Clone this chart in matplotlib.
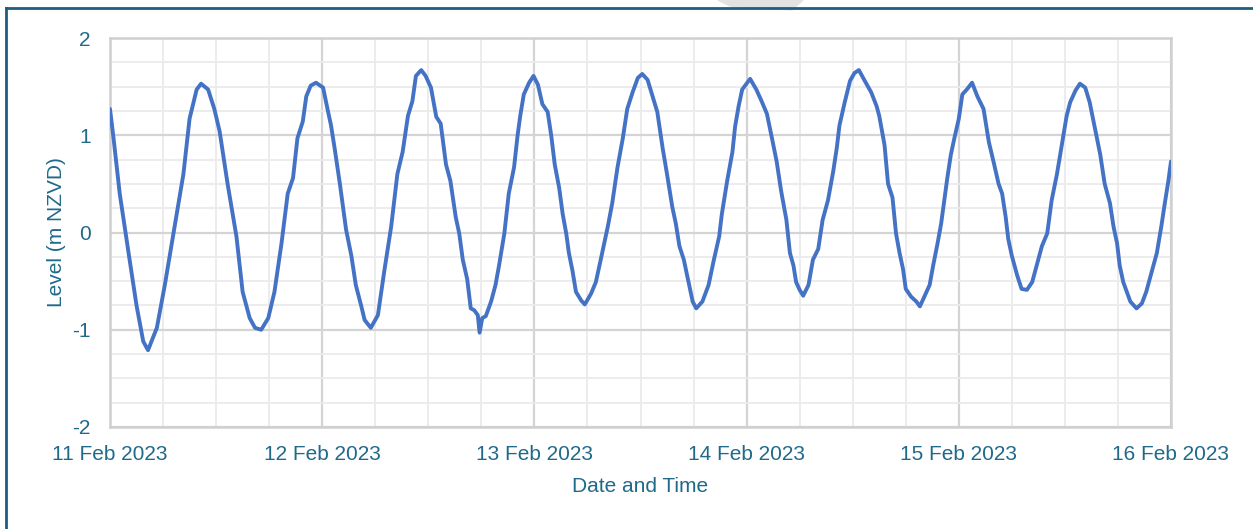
import numpy as np
import pandas as pd
import matplotlib
matplotlib.use("Agg")
import matplotlib.pyplot as plt
import matplotlib.dates as mdates
from matplotlib.lines import Line2D
from matplotlib.patches import Polygon

# hours after 11 Feb 2023 00:00
hours = [
    0.0, 0.4, 1.1, 2.1, 3.0, 3.76, 4.3, 5.3, 6.2, 7.3, 8.3, 9.0, 9.8, 10.3,
    11.1, 11.8, 12.4, 13.3, 14.3, 15.0, 15.8, 16.4, 17.1, 17.9, 18.6, 19.4,
    20.1, 20.7, 21.2, 21.8, 22.2, 22.7, 23.3, 24.1, 24.6, 25.0, 25.4, 26.0,
    26.7, 27.3, 27.8, 28.4, 28.8, 29.5, 30.3, 31.0, 31.8, 32.5, 33.1, 33.7,
    34.2, 34.6, 35.2, 35.7, 36.3, 36.9, 37.4, 38.0, 38.5, 39.1, 39.5, 39.9,
    40.4, 40.8, 41.2, 41.6, 41.8, 42.1, 42.5, 43.1, 43.6, 44.0, 44.6, 45.1,
    45.7, 46.1, 46.4, 46.8, 47.4, 47.9, 48.4, 48.9, 49.5, 49.9, 50.3, 50.8,
    51.2, 51.6, 51.9, 52.3, 52.7, 53.3, 53.7, 54.4, 54.95, 55.5, 56.3, 56.8,
    57.4, 58.0, 58.5, 59.1, 59.7, 60.2, 60.8, 61.3, 61.9, 62.5, 63.0, 63.6,
    64.0, 64.4, 64.9, 65.5, 65.9, 66.3, 67.0, 67.7, 68.3, 68.9, 69.2, 69.8,
    70.4, 70.7, 71.1, 71.5, 72.4, 73.1, 73.7, 74.3, 74.8, 75.4, 75.9, 76.5,
    76.9, 77.3, 77.6, 78.0, 78.4, 79.0, 79.5, 80.1, 80.6, 81.2, 81.8, 82.2,
    82.5, 83.1, 83.7, 84.2, 84.7, 85.3, 86.1, 86.7, 87.0, 87.6, 88.0, 88.5,
    88.9, 89.3, 89.7, 90.0, 90.6, 91.2, 91.6, 92.1, 92.7, 93.1, 93.6, 94.0,
    94.4, 94.7, 95.1, 95.5, 96.0, 96.4, 96.9, 97.5, 98.1, 98.8, 99.4, 100.0,
    100.5, 100.9, 101.3, 101.6, 102.0, 102.6, 103.1, 103.7, 104.3, 104.8,
    105.4, 106.0, 106.5, 107.1, 107.7, 108.2, 108.6, 109.2, 109.7, 110.3,
    110.8, 111.4, 112.0, 112.5, 113.1, 113.5, 113.9, 114.2, 114.6, 115.0,
    115.4, 116.1, 116.7, 117.2, 117.8, 118.4, 118.9, 119.3, 119.7, 120.0,
]
level = [
    1.27, 0.97, 0.40, -0.21, -0.75, -1.12, -1.21, -0.98, -0.54, 0.06, 0.60, 1.17, 1.47, 1.53,
    1.47, 1.27, 1.04, 0.50, -0.04, -0.61, -0.88, -0.98, -1.00, -0.88, -0.61, -0.11,
    0.40, 0.56, 0.97, 1.14, 1.40, 1.51, 1.54, 1.49, 1.27, 1.10, 0.87, 0.50,
    0.03, -0.24, -0.54, -0.75, -0.90, -0.98, -0.85, -0.41, 0.06, 0.60, 0.83, 1.20,
    1.35, 1.61, 1.67, 1.61, 1.49, 1.19, 1.12, 0.70, 0.53, 0.16, -0.01, -0.28,
    -0.48, -0.78, -0.80, -0.85, -1.03, -0.88, -0.86, -0.71, -0.54, -0.34, -0.01, 0.40,
    0.67, 1.00, 1.20, 1.42, 1.54, 1.61, 1.52, 1.32, 1.24, 1.00, 0.70, 0.46,
    0.19, -0.01, -0.21, -0.39, -0.61, -0.70, -0.74, -0.63, -0.51, -0.28, 0.06, 0.30,
    0.67, 0.97, 1.27, 1.44, 1.59, 1.63, 1.57, 1.42, 1.24, 0.87, 0.60, 0.26,
    0.09, -0.14, -0.28, -0.54, -0.71, -0.78, -0.71, -0.54, -0.28, -0.04, 0.19, 0.53,
    0.83, 1.09, 1.30, 1.47, 1.58, 1.47, 1.35, 1.22, 1.00, 0.73, 0.43, 0.13,
    -0.21, -0.34, -0.51, -0.59, -0.65, -0.54, -0.28, -0.17, 0.13, 0.33, 0.63, 0.87,
    1.10, 1.34, 1.56, 1.64, 1.67, 1.57, 1.44, 1.30, 1.20, 0.90, 0.50, 0.36,
    -0.01, -0.21, -0.38, -0.58, -0.66, -0.71, -0.76, -0.66, -0.54, -0.34, -0.11, 0.09,
    0.36, 0.56, 0.80, 0.97, 1.17, 1.42, 1.47, 1.54, 1.40, 1.27, 0.93, 0.70,
    0.50, 0.40, 0.16, -0.07, -0.24, -0.44, -0.58, -0.59, -0.51, -0.34,
    -0.14, -0.01, 0.33, 0.60, 0.93, 1.20, 1.34, 1.46, 1.53, 1.49,
    1.34, 1.07, 0.80, 0.50, 0.30, 0.06, -0.11, -0.34, -0.51, -0.61,
    -0.71, -0.78, -0.73, -0.61, -0.41, -0.21, 0.06, 0.30, 0.53, 0.73,
]
start = pd.Timestamp("2023-02-11")
day_ticks = pd.date_range("2023-02-11", "2023-02-16", freq="D")
y_ticks = [-2, -1, 0, 1, 2]

times = start + pd.to_timedelta(hours, unit="h")

text_col = "#1F6A8A"
plt.rcParams["font.family"] = ["Liberation Sans", "DejaVu Sans"]
plt.rcParams["axes.unicode_minus"] = False

fig = plt.figure(figsize=(12.53, 5.29), dpi=100)
ax = fig.add_axes([110 / 1253, 1 - 427 / 529, 1061 / 1253, 389 / 529])

ax.plot(times, level, color="#4472C4", lw=2.8, solid_joinstyle="round",
        solid_capstyle="round", zorder=3)

ax.set_xlim(day_ticks[0], day_ticks[-1])
ax.set_ylim(-2, 2)
ax.set_xticks(day_ticks)
ax.xaxis.set_major_formatter(mdates.DateFormatter("%-d %b %Y"))
ax.xaxis.set_minor_locator(mdates.HourLocator(byhour=[6, 12, 18]))
ax.set_yticks(y_ticks)
ax.set_yticks(np.arange(-2, 2.01, 0.25), minor=True)

ax.grid(which="major", color="#D4D4D4", lw=1.6, zorder=1)
ax.grid(which="minor", color="#EBEBEB", lw=1.3, zorder=0)
for s in ax.spines.values():
    s.set_color("#D0D0D0")
    s.set_linewidth(1.8)

ax.tick_params(which="both", length=0)
ax.tick_params(axis="y", labelsize=15, labelcolor=text_col, pad=14)
ax.tick_params(axis="x", labelsize=15, labelcolor=text_col, pad=13)
ax.set_xlabel("Date and Time", fontsize=15, color=text_col, labelpad=9)
ax.set_ylabel("Level (m NZVD)", fontsize=15, color=text_col, labelpad=4)

# outer frame of the figure panel
fig.add_artist(Line2D([6 / 1253, 1.0], [1 - 8 / 529] * 2, transform=fig.transFigure,
                      color="#1D5E7E", lw=2))
fig.add_artist(Line2D([6 / 1253] * 2, [0, 1 - 8 / 529], transform=fig.transFigure,
                      color="#1D5E7E", lw=2))
fig.add_artist(Polygon([[718 / 1253, 1], [803 / 1253, 1], [792 / 1253, 1 - 10 / 529],
                        [730 / 1253, 1 - 6 / 529]], closed=True, transform=fig.transFigure,
                       color="#E2E2E2", zorder=-1))

fig.savefig("out.png", dpi=100)
